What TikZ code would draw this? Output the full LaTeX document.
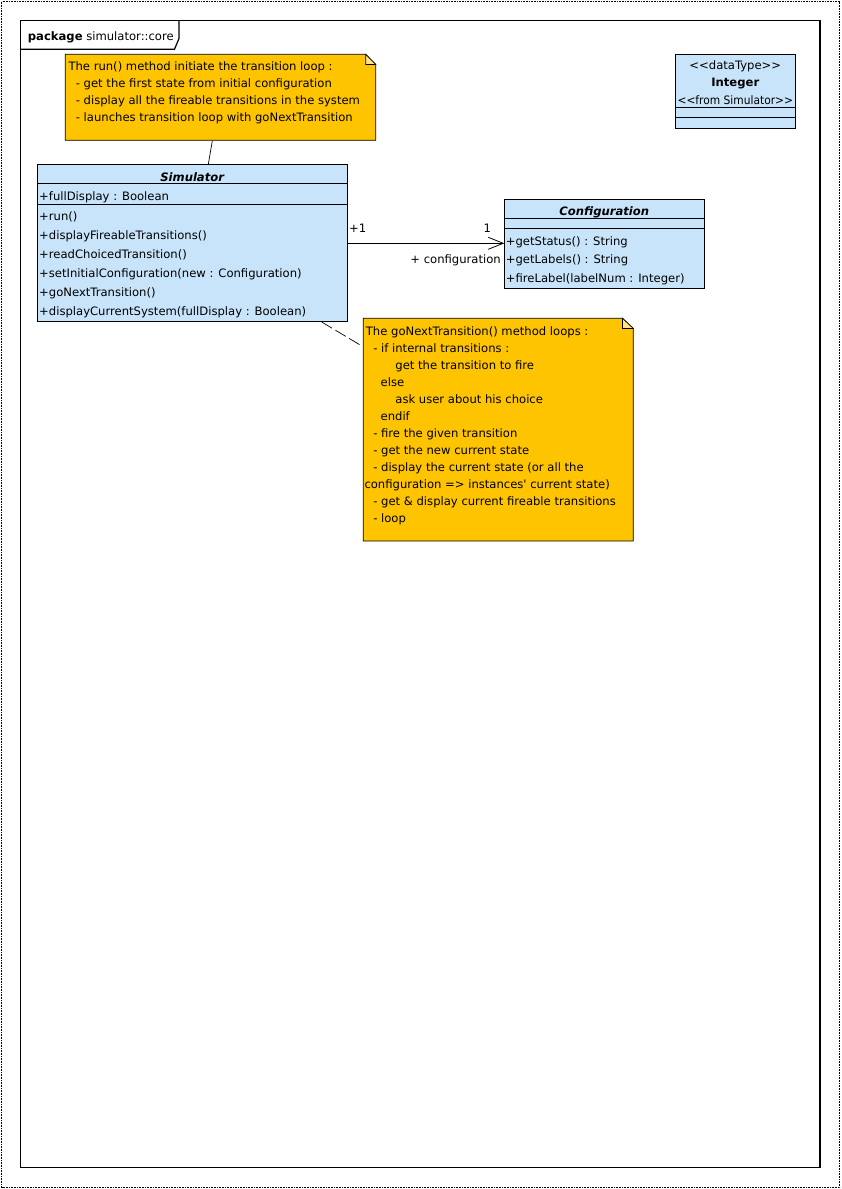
\documentclass[tikz,border=0pt]{standalone}
\usepackage{fontspec}
\usepackage{graphicx}
\setmainfont{DejaVu Sans}
\usetikzlibrary{arrows.meta}
\definecolor{classblue}{RGB}{200,228,250}
\definecolor{notegold}{RGB}{255,196,0}
\definecolor{foldgold}{RGB}{255,228,140}
\tikzset{
  txt/.style={anchor=base west, inner sep=0pt, font=\fontsize{11.6}{17}\selectfont},
  ctxt/.style={anchor=base, inner sep=0pt, font=\fontsize{11.6}{17}\selectfont},
  classbox/.style={draw=black, fill=classblue, line width=0.8pt},
  notebox/.style={draw=black, fill=notegold, line width=0.8pt},
  foldbox/.style={draw=black, fill=foldgold, line width=0.6pt},
  sepline/.style={line width=0.8pt},
  frameline/.style={line width=1.2pt},
  notelink/.style={line width=0.7pt},
}
\begin{document}
\begin{tikzpicture}[x=1pt,y=-1pt]
\useasboundingbox (0,0) rectangle (841,1189);
% outer dotted border
\draw[densely dotted, line width=0.6pt] (1.5,1.5) rectangle (839.5,1187.5);
% package frame
\draw[frameline] (20.5,20.5) rectangle (820,1167.5);
\draw[frameline] (20.5,49.3) -- (174.5,49.3) -- (179,38.5) -- (179,20.5);
\node[txt] (pkg) at (27.7,40) {\textbf{package} simulator::core};

% Note 1
\path[notebox] (65.3,54.3) -- (365.7,54.3) -- (375.7,64.5) -- (375.7,140.3) -- (65.3,140.3) -- cycle;
\path[foldbox] (365.7,54.3) -- (375.7,64.5) -- (365.7,64.5) -- cycle;
\coordinate (n1b) at (212.3,141);
\node[txt] (n1l1) at (68.3,70.5) {The run() method initiate the transition loop :};
\node[txt] (n1l2) at (68.3,87.5) {\ \ - get the first state from initial configuration};
\node[txt] (n1l3) at (68.3,104.5) {\ \ - display all the fireable transitions in the system};
\node[txt] (n1l4) at (68.3,121.5) {\ \ - launches transition loop with goNextTransition};

% Integer datatype
\path[classbox] (675.3,54.3) rectangle (795.3,128.3);
\draw[sepline] (675.3,107.7) -- (795.3,107.7);
\draw[sepline] (675.3,117.3) -- (795.3,117.3);
\node[ctxt] (intst) at (735.3,69.3) {<{}<dataType>{}>};
\node[ctxt] (intname) at (735.3,86.7) {\textbf{Integer}};
\node[ctxt] (intfrom) at (735.3,104) {\scalebox{0.92}[1]{<{}<from Simulator>{}>}};

% Simulator class
\path[classbox] (37.3,164.3) rectangle (347.7,321.7);
\coordinate (simtop) at (208.3,164.3);
\draw[sepline] (37.3,183.3) -- (347.7,183.3);
\draw[sepline] (37.3,204.3) -- (347.7,204.3);
\node[ctxt] (simname) at (192.5,181) {\textbf{\textit{Simulator}}};
\node[txt] (sima1) at (39,200) {+fullDisplay : Boolean};
\node[txt] (simm1) at (39,220.5) {+run()};
\node[txt] (simm2) at (39,239.5) {+displayFireableTransitions()};
\node[txt] (simm3) at (39,258.5) {+readChoicedTransition()};
\node[txt] (simm4) at (39,277.5) {+setInitialConfiguration(new : Configuration)};
\node[txt] (simm5) at (39,296.5) {+goNextTransition()};
\node[txt] (simm6) at (39,315.5) {+displayCurrentSystem(fullDisplay : Boolean)};
\coordinate (simR) at (347.7,243.3);
\coordinate (simBR) at (321.7,322);

% Configuration class
\path[classbox] (504.3,199.3) rectangle (704.3,288.3);
\draw[sepline] (504.3,218.3) -- (704.3,218.3);
\draw[sepline] (504.3,228.3) -- (704.3,228.3);
\node[ctxt] (confname) at (604.3,215) {\textbf{\textit{Configuration}}};
\node[txt] (confm1) at (505.7,245) {+getStatus() : String};
\node[txt] (confm2) at (505.7,263.5) {+getLabels() : String};
\node[txt] (confm3) at (505.7,282) {+fireLabel(labelNum : Integer)};
\coordinate (confL) at (504.3,243.3);

% association
\draw[line width=0.8pt, -{Straight Barb[length=15pt,width=12pt,line width=0.8pt]}] (simR) -- (confL);
\node[txt] (m1) at (349,232) {+1};
\node[txt] (m2) at (483.5,232.5) {1};
\node[anchor=base east, inner sep=0pt, font=\fontsize{11.6}{17}\selectfont] (role) at (501,263.5) {+ configuration};

% Note 2
\path[notebox] (363.3,318.3) -- (622.5,318.3) -- (633.3,328.5) -- (633.3,541) -- (363.3,541) -- cycle;
\path[foldbox] (622.5,318.3) -- (633.3,328.5) -- (622.5,328.5) -- cycle;
\coordinate (n2l) at (362.7,346.5);
\node[txt] (n2a) at (365.7,335) {The goNextTransition() method loops :};
\node[txt] (n2b) at (365.7,352) {\ \ - if internal transitions :};
\node[txt] (n2c) at (365.7,369) {\ \ \ \ \ \ \ \ get the transition to fire};
\node[txt] (n2d) at (365.7,386) {\ \ \ \ else};
\node[txt] (n2e) at (365.7,403) {\ \ \ \ \ \ \ \ ask user about his choice};
\node[txt] (n2f) at (365.7,420) {\ \ \ \ endif};
\node[txt] (n2g) at (365.7,437) {\ \ - fire the given transition};
\node[txt] (n2h) at (365.7,454) {\ \ - get the new current state};
\node[txt] (n2i) at (365.7,471) {\ \ - display the current state (or all the};
\node[txt] (n2j) at (364.3,488) {configuration => instances\textquotesingle\ current state)};
\node[txt] (n2k) at (365.7,505) {\ \ - get \& display current fireable transitions};
\node[txt] (n2l2) at (365.7,522) {\ \ - loop};

% note links
\draw[notelink] (n1b) -- (simtop);
\draw[notelink, dash pattern=on 12pt off 4pt] (simBR) -- (n2l);
\end{tikzpicture}
\end{document}
